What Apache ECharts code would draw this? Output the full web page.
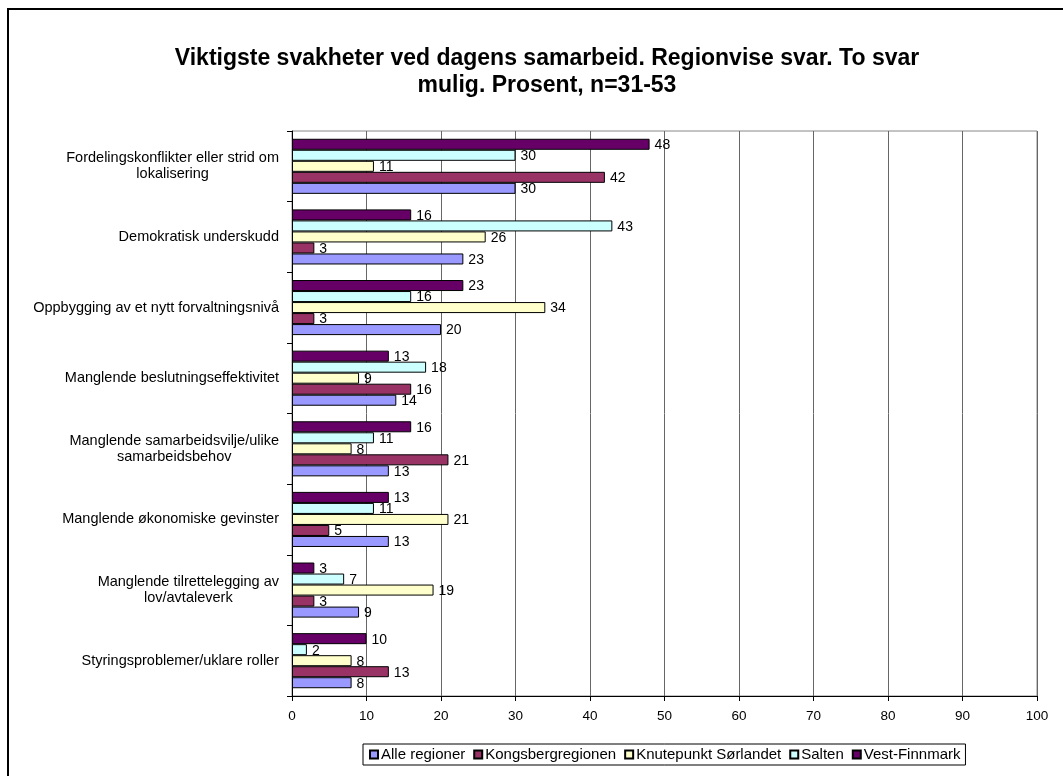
<!DOCTYPE html>
<html>
<head>
<meta charset="utf-8">
<script src="https://cdn.jsdelivr.net/npm/echarts@6/dist/echarts.min.js"></script>
<style>
  html, body { margin: 0; padding: 0; background: #fff; }
  #chart { width: 1063px; height: 776px; }
</style>
</head>
<body>
<div id="chart"></div>
<script>
// kategorier, ovenfra og ned
const categories = [
  "Fordelingskonflikter eller strid om\nlokalisering",
  "Demokratisk underskudd",
  "Oppbygging av et nytt forvaltningsnivå",
  "Manglende beslutningseffektivitet",
  "Manglende samarbeidsvilje/ulike\nsamarbeidsbehov",
  "Manglende økonomiske gevinster",
  "Manglende tilrettelegging av\nlov/avtaleverk",
  "Styringsproblemer/uklare roller",
];
const seriesNames = ["Alle regioner", "Kongsbergregionen", "Knutepunkt Sørlandet", "Salten", "Vest-Finnmark"];
const alleRegioner = [30, 23, 20, 14, 13, 13, 9, 8];
const kongsberg = [42, 3, 3, 16, 21, 5, 3, 13];
const knutepunkt = [11, 26, 34, 9, 8, 21, 19, 8];
const salten = [30, 43, 16, 18, 11, 11, 7, 2];
const vestFinnmark = [48, 16, 23, 13, 16, 13, 3, 10];
const xTicks = [0, 10, 20, 30, 40, 50, 60, 70, 80, 90, 100];

const colors = ["#9999FF", "#993366", "#FFFFCC", "#CCFFFF", "#660066"];
const values = [alleRegioner, kongsberg, knutepunkt, salten, vestFinnmark];
const font = "Liberation Sans, Arial";

const myChart = echarts.init(document.getElementById("chart"));

// Vest-Finnmark øverst i hver gruppe -> serier i omvendt rekkefølge
const series = seriesNames
  .map((name, i) => ({
    name,
    type: "bar",
    data: values[i],
    barGap: "0%",
    barCategoryGap: "22%",
    itemStyle: { color: colors[i], borderColor: "#000", borderWidth: 1 },
    label: {
      show: true,
      position: "right",
      distance: 5,
      offset: [0, 1],
      color: "#000",
      fontFamily: font,
      fontSize: 14,
    },
  }))
  .reverse();

myChart.setOption({
  animation: false,
  title: {
    text: "Viktigste svakheter ved dagens samarbeid. Regionvise svar. To svar\nmulig. Prosent, n=31-53",
    left: 542,
    textAlign: "center",
    top: 40,
    textStyle: {
      fontFamily: font,
      fontWeight: "bold",
      fontSize: 23,
      lineHeight: 27,
      color: "#000",
    },
  },
  legend: {
    data: seriesNames,
    left: 363,
    top: 744,
    orient: "horizontal",
    itemWidth: 8,
    itemHeight: 8,
    itemGap: 8,
    padding: [3, 5, 3, 6],
    borderColor: "#000",
    borderWidth: 1,
    icon: "rect",
    textStyle: { fontFamily: font, fontSize: 15, color: "#000", padding: [0, 0, 0, -2] },
  },
  grid: { left: 292, right: 26, top: 131, bottom: 80, show: true, borderColor: "#888", borderWidth: 1 },
  xAxis: {
    type: "value",
    min: 0,
    max: 100,
    interval: 10,
    axisLine: { show: true, lineStyle: { color: "#000" } },
    axisTick: { show: true, length: 5, lineStyle: { color: "#000" } },
    axisLabel: {
      color: "#000",
      fontFamily: font,
      fontSize: 13.5,
      margin: 13,
      formatter: (v) => (xTicks.includes(v) ? String(v) : ""),
    },
    splitLine: { show: true, lineStyle: { color: "#666" } },
  },
  yAxis: {
    type: "category",
    inverse: true,
    data: categories,
    axisLine: { show: true, lineStyle: { color: "#000" } },
    axisTick: { show: true, length: 5, lineStyle: { color: "#000" } },
    axisLabel: {
      color: "#000",
      fontFamily: font,
      fontSize: 14.5,
      lineHeight: 16,
      align: "right",
      margin: 13,
      formatter: (v) => v.split("\n").map((l) => "{c|" + l + "}").join("\n"),
      rich: {
        c: { align: "center", fontFamily: font, fontSize: 14.5, lineHeight: 16, color: "#000" },
      },
    },
  },
  graphic: [
    {
      type: "rect",
      shape: { x: 8, y: 9, width: 1100, height: 800 },
      style: { fill: null, stroke: "#000", lineWidth: 2 },
      silent: true,
    },
  ],
  series,
});
</script>
</body>
</html>
